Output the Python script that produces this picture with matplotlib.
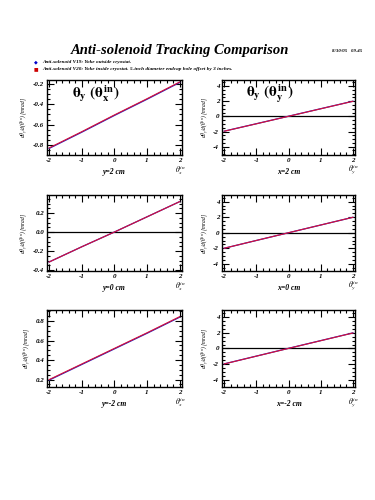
import matplotlib.pyplot as plt
from matplotlib.ticker import MultipleLocator

plt.rcParams['font.family'] = ['Liberation Serif', 'DejaVu Serif']
plt.rcParams['mathtext.fontset'] = 'stix'
plt.rcParams['axes.unicode_minus'] = False

# theta_in scan points (mrad)
theta_in = [-2, -1, 0, 1, 2]

# V19 (blue) and V20 (red) results, one list per panel
v19_yx_y2 = [-0.835, -0.675, -0.510, -0.350, -0.185]
v20_yx_y2 = [-0.830, -0.670, -0.505, -0.345, -0.180]
v19_yy_x2 = [-1.95, -0.97, 0.02, 1.01, 2.00]
v20_yy_x2 = [-1.96, -0.98, 0.01, 1.00, 1.99]
v19_yx_y0 = [-0.315, -0.155, 0.000, 0.160, 0.320]
v20_yx_y0 = [-0.315, -0.155, 0.000, 0.160, 0.320]
v19_yy_x0 = [-1.98, -0.98, 0.01, 1.00, 1.99]
v20_yy_x0 = [-1.98, -0.98, 0.01, 1.00, 1.99]
v19_yx_ym2 = [0.195, 0.355, 0.515, 0.675, 0.840]
v20_yx_ym2 = [0.200, 0.360, 0.520, 0.680, 0.845]
v19_yy_xm2 = [-1.98, -0.98, 0.02, 1.01, 2.00]
v20_yy_xm2 = [-1.99, -0.99, 0.01, 1.00, 1.99]

panel_blue = [v19_yx_y2, v19_yy_x2, v19_yx_y0, v19_yy_x0, v19_yx_ym2, v19_yy_xm2]
panel_red = [v20_yx_y2, v20_yy_x2, v20_yx_y0, v20_yy_x0, v20_yx_ym2, v20_yy_xm2]
panel_xlabel = ['y=2 cm', 'x=2 cm', 'y=0 cm', 'x=0 cm', 'y=-2 cm', 'x=-2 cm']
panel_ylim = [(-0.9, -0.16), (-5.1, 4.8), (-0.41, 0.39), (-4.9, 4.85), (0.124, 0.914), (-4.96, 4.95)]
panel_ytick = [(0.2, 0.05), (2, 0.5), (0.2, 0.05), (2, 0.5), (0.2, 0.05), (2, 0.5)]
panel_title = [r'$\mathbf{\theta_y\ (\theta_x^{\,in})}$', r'$\mathbf{\theta_y\ (\theta_y^{\,in})}$', None, None, None, None]
corner_sub = ['x', 'y', 'x', 'y', 'x', 'y']

fig = plt.figure(figsize=(3.75, 5), dpi=100)

lefts = [0.125, 0.592]
widths = [0.36, 0.355]
bottoms = [0.69, 0.458, 0.226]
heights = [0.15, 0.152, 0.154]

fig.text(0.48, 0.899, 'Anti-solenoid Tracking Comparison', ha='center', va='center',
         fontsize=10.5, fontweight='bold', style='italic')
fig.text(0.925, 0.899, '8/30/05   09.45', ha='center', va='center', fontsize=3.5,
         fontweight='bold', style='italic')

fig.text(0.096, 0.876, '\u25C6', color='#0000cc', fontsize=3.5, ha='center', va='center',
         family=['DejaVu Sans'])
fig.text(0.112, 0.876, 'Anti-solenoid V19: Yoke outside cryostat.', fontsize=3.8,
         fontweight='bold', style='italic', va='center')
fig.text(0.096, 0.862, '\u25A0', color='#cc0000', fontsize=3.5, ha='center', va='center',
         family=['DejaVu Sans'])
fig.text(0.112, 0.862, 'Anti-solenoid V20: Yoke inside cryostat. 5-inch diameter endcap hole offset by 3 inches.',
         fontsize=3.8, fontweight='bold', style='italic', va='center')

for i in range(6):
    r, c = divmod(i, 2)
    ax = fig.add_axes([lefts[c], bottoms[r], widths[c], heights[r]])
    lo, hi = panel_ylim[i]
    if lo < 0 < hi:
        ax.axhline(0, color='black', lw=0.9)
    ax.plot(theta_in, panel_blue[i], color='#2020c0', lw=0.9)
    ax.plot(theta_in, panel_red[i], color='#d81038', lw=0.8)
    ax.set_xlim(-2.07, 2.07)
    ax.set_ylim(lo, hi)
    ax.xaxis.set_major_locator(MultipleLocator(1))
    ax.xaxis.set_minor_locator(MultipleLocator(0.2))
    ax.yaxis.set_major_locator(MultipleLocator(panel_ytick[i][0]))
    ax.yaxis.set_minor_locator(MultipleLocator(panel_ytick[i][1]))
    ax.tick_params(which='both', direction='in', top=True, right=True, width=0.8,
                   labelsize=5, pad=2)
    ax.tick_params(which='major', length=5)
    ax.tick_params(which='minor', length=2.5)
    for lab in ax.get_xticklabels() + ax.get_yticklabels():
        lab.set_fontweight('bold')
        lab.set_fontstyle('italic')
    for s in ax.spines.values():
        s.set_linewidth(1.0)
    ax.set_xlabel(panel_xlabel[i], fontsize=5.5, fontweight='bold', style='italic', labelpad=4)
    ax.set_ylabel(r'd$\theta_y$/d($\theta^{in}$) [mrad]', fontsize=4, style='italic', labelpad=2)
    ax.text(0.99, -0.2, r'$\theta_%s^{in}$' % corner_sub[i], transform=ax.transAxes,
            fontsize=5.5, ha='center', va='center')
    if panel_title[i]:
        ax.text(0.36, 0.82, panel_title[i], transform=ax.transAxes, fontsize=11,
                ha='center', va='center')

fig.savefig('out.png', dpi=100)
